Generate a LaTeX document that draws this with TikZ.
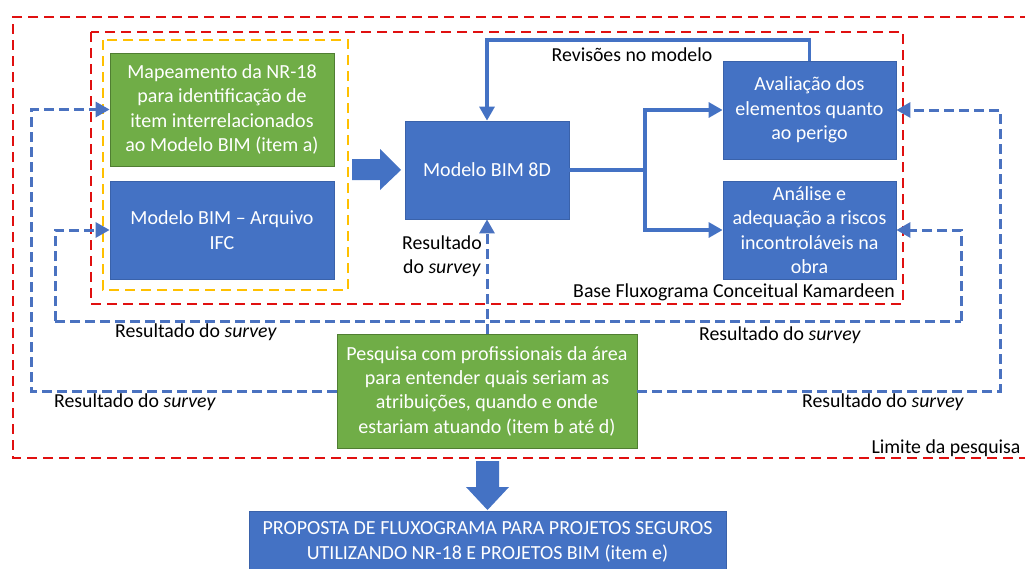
\documentclass[tikz,border=0pt]{standalone}
\usepackage{fontspec}
\setmainfont{Carlito}
\usetikzlibrary{arrows.meta,positioning,calc}
\definecolor{bblue}{HTML}{4472C4}
\definecolor{bbord}{HTML}{3A62AA}
\definecolor{bgreen}{HTML}{70AD47}
\definecolor{gbord}{HTML}{507E32}
\definecolor{lred}{HTML}{E01010}
\definecolor{lyel}{HTML}{FFC000}
\definecolor{dblue}{HTML}{4A72C0}
\tikzset{
  boxtxt/.style={font=\fontsize{20}{24.3}\selectfont, text=white, align=center, inner sep=0pt},
  bluebox/.style={boxtxt, fill=bblue, draw=bbord, line width=0.8pt},
  greenbox/.style={boxtxt, fill=bgreen, draw=gbord, line width=0.8pt},
  lbl/.style={font=\fontsize{19.8}{23.5}\selectfont, text=black, align=center, inner sep=0pt},
  reddash/.style={draw=lred, line width=2.6pt, dash pattern=on 10pt off 6pt},
  yeldash/.style={draw=lyel, line width=2.6pt, dash pattern=on 10pt off 6pt},
  survey/.style={draw=dblue, line width=3pt, dash pattern=on 10pt off 5pt},
  flow/.style={draw=bblue, line width=3.2pt},
  tip/.style={-{Triangle[length=14pt,width=15pt]}},
  blockarrow/.style={fill=bblue, draw=none}
}
\begin{document}
\begin{tikzpicture}[x=1pt,y=-1pt]
\useasboundingbox (0,0) rectangle (1025,568);
\fill[white] (0,0) rectangle (1025,568);

% boundaries
\draw[reddash] (1030,17) -- (13,17) -- (13,458) -- (1030,458);
\draw[reddash] (91,32) rectangle (903,304);
\draw[yeldash] (103,40) rectangle (348,290);

% boxes
\node[greenbox, minimum width=224pt, minimum height=113pt] (mape) at (222,109.5)
  {Mapeamento da NR-18\\para identificação de\\item interrelacionados\\ao Modelo BIM (item a)};
\node[bluebox, minimum width=224pt, minimum height=98pt] (ifc) at (222,230)
  {Modelo BIM -- Arquivo\\IFC};
\node[bluebox, minimum width=164pt, minimum height=98pt] (bim) at (487,170)
  {Modelo BIM 8D};
\node[bluebox, minimum width=173pt, minimum height=98pt] (aval) at (809.5,110)
  {Avaliação dos\\elementos quanto\\ao perigo};
\node[bluebox, minimum width=173pt, minimum height=98pt] (anal) at (809.5,230)
  {Análise e\\adequação a riscos\\incontroláveis na\\obra};
\node[greenbox, minimum width=300pt, minimum height=114pt] (pesq) at (487,391)
  {Pesquisa com profissionais da área\\para entender quais seriam as\\atribuições, quando e onde\\estariam atuando (item b até d)};
\node[bluebox, minimum width=477pt, minimum height=62pt] (prop) at (487.5,542)
  {PROPOSTA DE FLUXOGRAMA PARA PROJETOS SEGUROS\\UTILIZANDO NR-18 E PROJETOS BIM (item e)};

% block arrows
\path[blockarrow] (352,159) -- (380,159) -- (380,149) -- (401,170) -- (380,190) -- (380,180) -- (352,180) -- cycle;
\path[blockarrow] (476,461) -- (499,461) -- (499,487) -- (509,487) -- (487.5,510) -- (466,487) -- (476,487) -- cycle;

% revisions loop
\coordinate (rv) at (487,40);
\draw[flow,tip] (aval.north) |- (rv) -- (bim.north);
\node[lbl] (rvl) at (632,55) {Revisões no modelo};

% branch
\coordinate (br) at (645,170);
\draw[flow] (bim.east) -- (br);
\draw[flow,tip] (br) |- (aval.west);
\draw[flow,tip] (br) |- (anal.west);

% survey connectors
\coordinate (iL) at (55,321);
\coordinate (iR) at (961,321);
\coordinate (oL) at (31,391);
\coordinate (oR) at (1000,391);
\draw[survey,tip] (pesq.north) -- (bim.south);
\draw[survey] (iL) -- (iR);
\draw[survey,tip] (iL) |- (ifc.west);
\draw[survey,tip] (iR) |- (anal.east);
\draw[survey,tip] (pesq.west) -- (oL) |- (mape.west);
\draw[survey,tip] (pesq.east) -- (oR) |- (aval.east);

% labels
\node[lbl] (l1) at (442,256) {Resultado\\do \textit{survey}};
\node[lbl] (l2) at (196,332) {Resultado do \textit{survey}};
\node[lbl] (l3) at (780,335) {Resultado do \textit{survey}};
\node[lbl] (l4) at (135,402) {Resultado do \textit{survey}};
\node[lbl] (l5) at (883,402) {Resultado do \textit{survey}};
\node[lbl] (l6) at (734,292) {Base Fluxograma Conceitual Kamardeen};
\node[lbl] (l7) at (946,448) {Limite da pesquisa};
\end{tikzpicture}
\end{document}
